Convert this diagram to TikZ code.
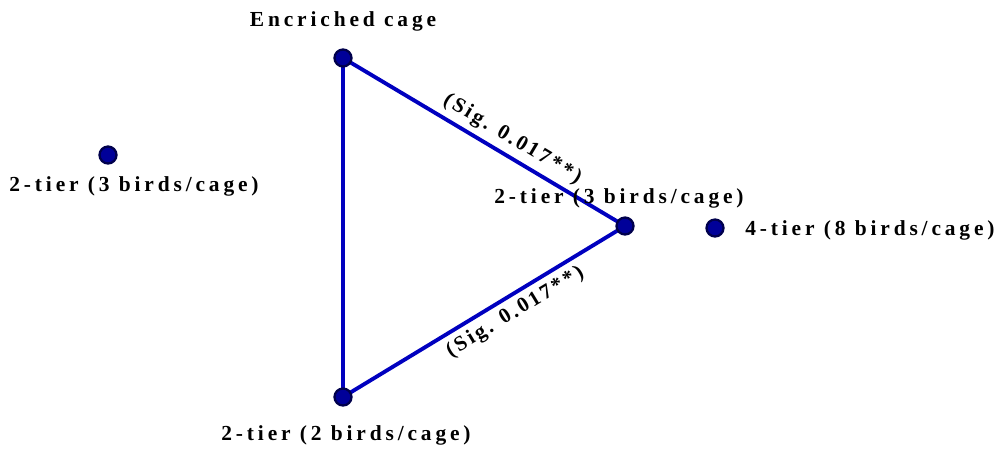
\documentclass[tikz,border=0pt]{standalone}
\usepackage{fontspec}
\setmainfont{Liberation Serif}[LetterSpace=18]
\newfontfamily\sigfont{Liberation Serif}[LetterSpace=13]
\usetikzlibrary{positioning}

\begin{document}
\begin{tikzpicture}[
    x=0.02cm, y=-0.02cm,
    dot/.style={
        circle, draw=blue!30!black, fill=blue!60!black,
        line width=1.3pt, minimum size=0.34cm, inner sep=0pt
    },
    edge/.style={
        draw=blue!75!black, line width=2.2pt
    },
    lbl/.style={
        font=\fontsize{12.2}{14}\selectfont\bfseries, inner sep=0pt
    },
    sig/.style={
        font=\fontsize{12}{14}\selectfont\sigfont\bfseries, inner sep=0pt, sloped
    }
]
\useasboundingbox (0,0) rectangle (1000,451);

% vertices
\coordinate (enc) at (343,58);
\coordinate (tierR) at (625,226);
\coordinate (tierB) at (343,397);

% connectors
\draw[edge] (enc) -- (tierB);
\draw[edge] (enc) -- node[sig, pos=0.57, above=3pt] {(Sig. 0.017**)} (tierR);
\draw[edge] (tierB) -- node[sig, pos=0.58, below=3pt] {(Sig. 0.017**)} (tierR);

% dots
\node[dot] (encdot) at (enc) {};
\node[dot] (tierRdot) at (tierR) {};
\node[dot] (tierBdot) at (tierB) {};
\node[dot] (tierL) at (108,155) {};
\node[dot] (tierF) at (715,228) {};

% labels
\node[lbl] (encLbl) at (343,21) {Encriched cage};
\node[lbl] (tierLLbl) at (134,186) {2-tier (3 birds/cage)};
\node[lbl] (tierRLbl) at (619,198) {2-tier (3 birds/cage)};
\node[lbl, anchor=west] (tierFLbl) at (745,230) {4-tier (8 birds/cage)};
\node[lbl] (tierBLbl) at (346,435) {2-tier (2 birds/cage)};

\end{tikzpicture}
\end{document}
